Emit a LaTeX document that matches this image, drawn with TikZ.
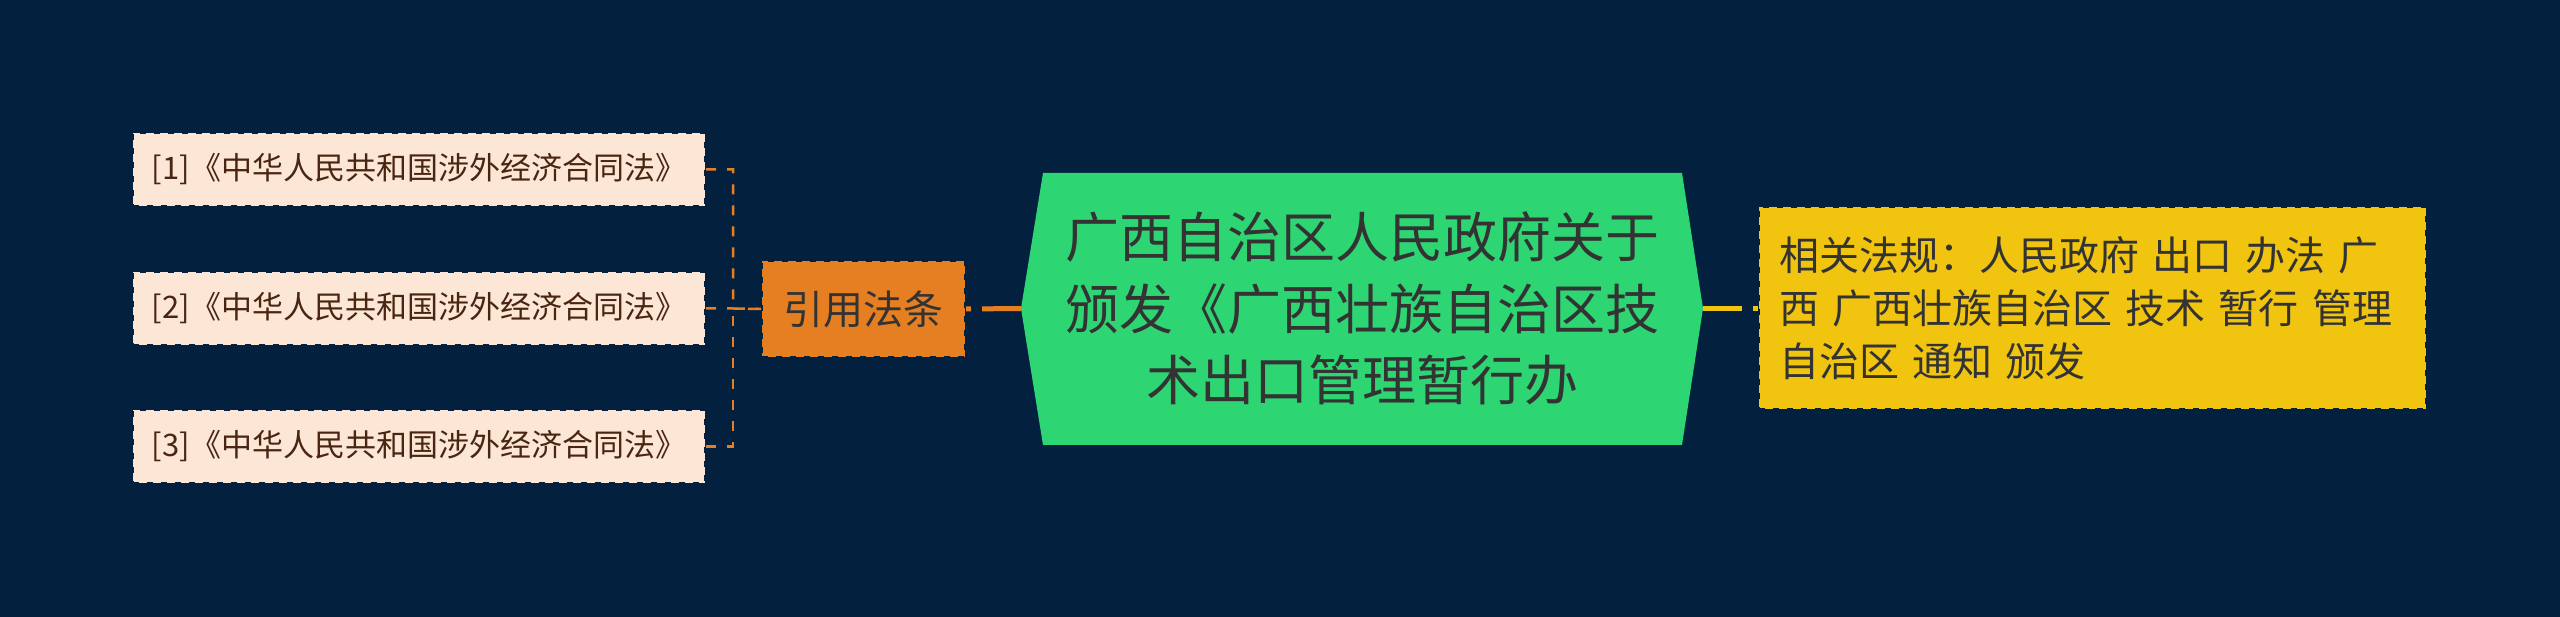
\documentclass[tikz,border=0pt]{standalone}
\usepackage{fontspec}
\setmainfont{Noto Sans CJK SC}
\definecolor{bg}{HTML}{03213F}
\definecolor{hexgreen}{HTML}{2ED573}
\definecolor{cOrange}{HTML}{E67E22}
\definecolor{cYellow}{HTML}{F1C40F}
\definecolor{leaffill}{HTML}{FCE7D6}
\definecolor{leaftext}{HTML}{4A2612}
\definecolor{darktext}{HTML}{333333}
\tikzset{
  boxborder/.style={draw=bg, line width=2pt, dash pattern=on 6pt off 8pt},
  leaf/.style={boxborder, fill=leaffill, text=leaftext, minimum width=572pt, minimum height=73pt,
    inner sep=0pt, font=\fontsize{31}{36}\selectfont},
  refbox/.style={boxborder, fill=cOrange, text=darktext, minimum width=203pt, minimum height=96pt,
    inner sep=0pt, font=\fontsize{40}{48}\selectfont},
  relbox/.style={boxborder, fill=cYellow, text=darktext, text width=627pt, inner xsep=20pt, inner ysep=0pt,
    minimum height=202pt, align=left, font=\fontsize{40}{53}\selectfont},
  hextext/.style={text=darktext, align=center, inner sep=0pt, font=\fontsize{54}{71.5}\selectfont},
  leafline/.style={draw=cOrange, line width=2.5pt, dash pattern=on 10pt off 11pt},
  mainline/.style={line width=5pt, dash pattern=on 39pt off 11pt},
}
\begin{document}
\begin{tikzpicture}[x=1pt,y=-1pt]
\fill[bg] (0,0) rectangle (2560,617);
\useasboundingbox (0,0) rectangle (2560,617);

% central hexagon
\fill[hexgreen] (1021,308.5) -- (1043,173) -- (1682,173) -- (1703,308.5) -- (1682,445) -- (1043,445) -- cycle;
\coordinate (hexL) at (1021,308.5);
\coordinate (hexR) at (1703,308.5);
\node[hextext] (hex) at (1362,308.5) {广西自治区人民政府关于\\颁发《广西壮族自治区技\\术出口管理暂行办};

% left branch
\node[refbox] (ref) at (863.5,309) {引用法条};
\node[leaf] (l1) at (419,169.5) {[1]《中华人民共和国涉外经济合同法》};
\node[leaf] (l2) at (419,308.5) {[2]《中华人民共和国涉外经济合同法》};
\node[leaf] (l3) at (419,446.5) {[3]《中华人民共和国涉外经济合同法》};
\coordinate (br) at (733,308.5);

% right branch
\node[relbox] (rel) at (2092.5,308.5) {相关法规：人民政府 出口 办法 广\\西 广西壮族自治区 技术 暂行 管理\\自治区 通知 颁发};

% connectors
\draw[mainline, cOrange] (hexL) -- (ref.east);
\draw[mainline, cYellow] (hexR) -- (rel.west);
\draw[leafline] (l1.east) -- (l1.east -| br) -- (br) -- (ref.west);
\draw[leafline] (l2.east) -- (br) -- (ref.west);
\draw[leafline] (l3.east) -- (l3.east -| br) -- (br);
\end{tikzpicture}
\end{document}
